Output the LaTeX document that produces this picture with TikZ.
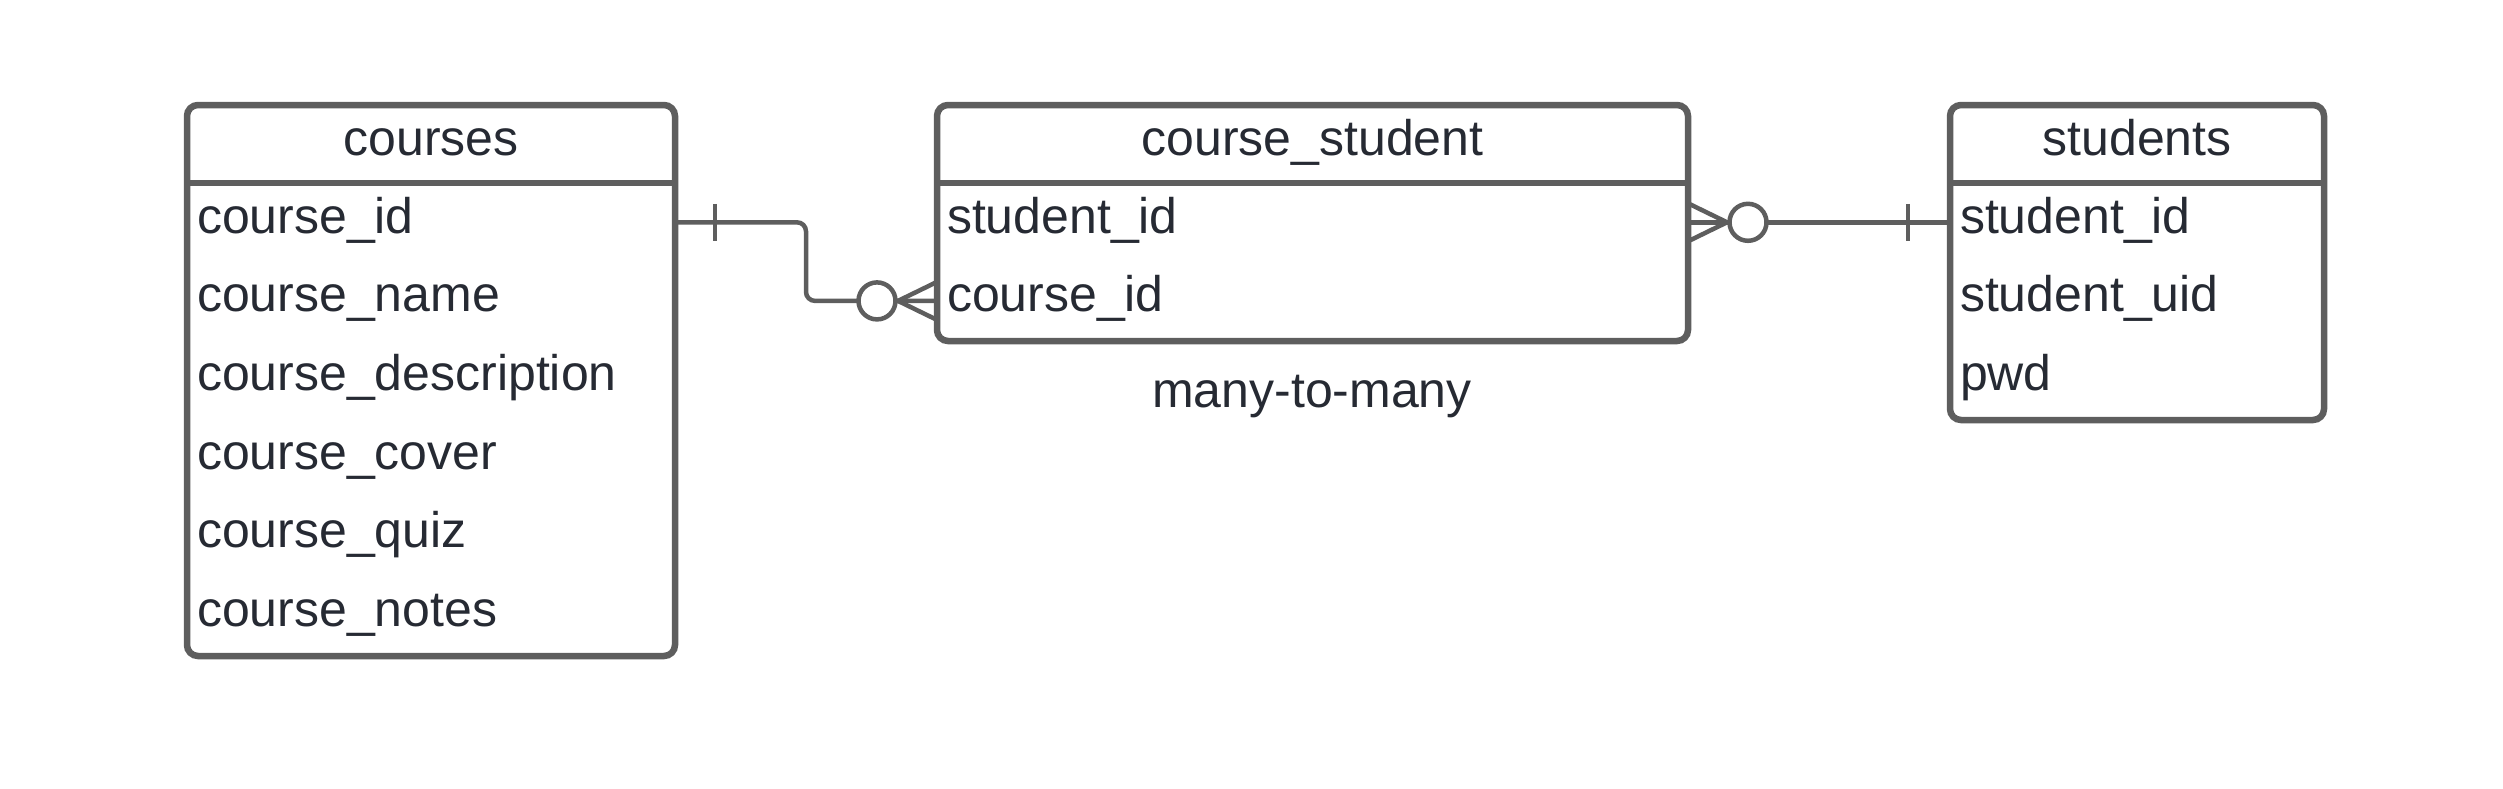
\documentclass[tikz,border=0pt]{standalone}
\usepackage{fontspec}
\setmainfont{Liberation Sans}
\usetikzlibrary{calc}
\definecolor{ln}{HTML}{5E5E5E}
\definecolor{tx}{HTML}{262A33}
\begin{document}
\begin{tikzpicture}[x=1pt,y=-1pt,
  every node/.style={font=\fontsize{50}{60}\selectfont, text=tx, outer sep=0pt},
  tbl/.style={draw=ln, line width=6.5pt, rounded corners=11pt, anchor=north west, inner sep=0pt},
  hdr/.style={anchor=north west, minimum height=78pt, inner sep=0pt, text height=36pt, text depth=14pt},
  fld/.style={anchor=north west, minimum height=78.6pt, inner ysep=0pt, inner xsep=10pt, text height=36pt, text depth=14pt, align=left},
  sep/.style={draw=ln, line width=6.5pt},
  conn/.style={draw=ln, line width=4.5pt},
  ring/.style={circle, draw=ln, line width=4.5pt, fill=white, minimum size=37pt, inner sep=0pt}
]
\useasboundingbox (0,0) rectangle (2503,788);

% courses
\node[tbl, minimum width=488pt, minimum height=551pt] (courses) at (187,105) {};
\node[hdr, minimum width=488pt] (ch) at (187,105) {courses};
\node[fld, text width=468pt] (c1) at (187,183) {course\_id};
\node[fld, text width=468pt] (c2) at (187,261.6) {course\_name};
\node[fld, text width=468pt] (c3) at (187,340.2) {course\_description};
\node[fld, text width=468pt] (c4) at (187,418.8) {course\_cover};
\node[fld, text width=468pt] (c5) at (187,497.4) {course\_quiz};
\node[fld, text width=468pt] (c6) at (187,576) {course\_notes};
\draw[sep] (ch.south west) -- (ch.south east);

% course_student
\node[tbl, minimum width=751pt, minimum height=236pt] (cs) at (937,105) {};
\node[hdr, minimum width=751pt] (csh) at (937,105) {course\_student};
\node[fld, text width=731pt] (cs1) at (937,183) {student\_id};
\node[fld, text width=731pt] (cs2) at (937,261.6) {course\_id};
\draw[sep] (csh.south west) -- (csh.south east);

% students
\node[tbl, minimum width=374pt, minimum height=315pt] (st) at (1950,105) {};
\node[hdr, minimum width=374pt] (sth) at (1950,105) {students};
\node[fld, text width=354pt] (s1) at (1950,183) {student\_id};
\node[fld, text width=354pt] (s2) at (1950,261.6) {student\_uid};
\node[fld, text width=354pt] (s3) at (1950,340.2) {pwd};
\draw[sep] (sth.south west) -- (sth.south east);

\node[anchor=base] (lbl) at (1312,407) {many-to-many};

% connector courses -> course_student
\draw[conn, rounded corners=9pt] (c1.east) -- ++(131,0) |- (cs2.west);
\draw[conn] ([xshift=40pt,yshift=18.5pt]c1.east) -- ([xshift=40pt,yshift=-18.5pt]c1.east);
\draw[conn] ([yshift=19pt]cs2.west) -- ([xshift=-39pt]cs2.west) -- ([yshift=-19pt]cs2.west);
\node[ring] (r1) at ([xshift=-60pt]cs2.west) {};

% connector course_student -> students
\draw[conn] (cs1.east) -- (s1.west);
\draw[conn] ([yshift=19pt]cs1.east) -- ([xshift=39pt]cs1.east) -- ([yshift=-19pt]cs1.east);
\node[ring] (r2) at ([xshift=60pt]cs1.east) {};
\draw[conn] ([xshift=-42pt,yshift=18.5pt]s1.west) -- ([xshift=-42pt,yshift=-18.5pt]s1.west);
\end{tikzpicture}
\end{document}
